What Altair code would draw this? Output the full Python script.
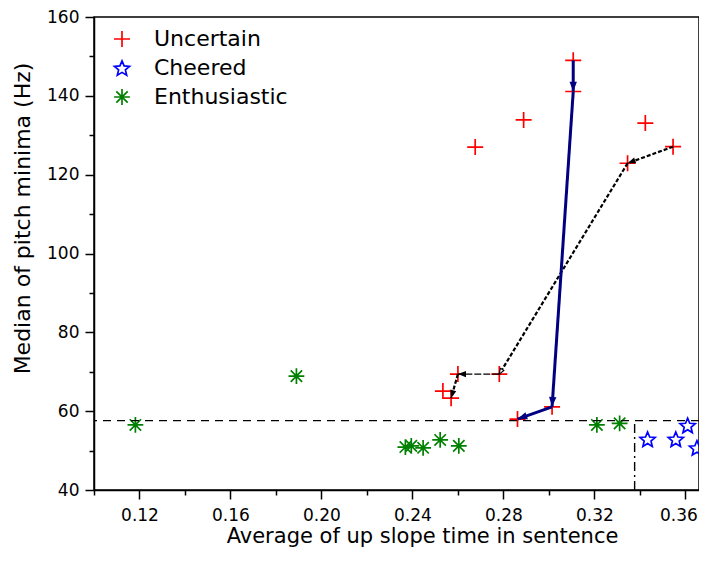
import math
import altair as alt
import pandas as pd

# ---------------- data ----------------
series_names = ["Uncertain", "Cheered", "Enthusiastic"]
series_colors = ["#ff0000", "#0000ff", "#008000"]

unc_x = [0.3107, 0.3107, 0.2889, 0.2676, 0.3424, 0.3546, 0.3346, 0.2782, 0.2600, 0.2534, 0.2570, 0.3014, 0.2862]
unc_y = [149.0, 141.1, 133.9, 127.0, 133.1, 127.1, 122.9, 69.4, 69.4, 65.1, 63.3, 61.1, 58.0]

cheer_x = [0.3434, 0.3558, 0.3610, 0.3651]
cheer_y = [52.9, 52.9, 56.4, 50.7]

enth_x = [0.1182, 0.1890, 0.2369, 0.2395, 0.2447, 0.2522, 0.2604, 0.3211, 0.3311]
enth_y = [56.5, 68.9, 50.9, 51.2, 50.7, 52.7, 51.2, 56.5, 56.9]

thresh_y = 57.6
thresh_x = 0.3377

blue_path_x = [0.3107, 0.3107, 0.3014, 0.2862]
blue_path_y = [149.0, 141.1, 61.1, 58.0]
black_path_x = [0.3546, 0.3346, 0.2782, 0.2600, 0.2570]
black_path_y = [127.1, 122.9, 69.4, 69.4, 63.3]
black_thin_segments = [2]
black_open_heads = [1]

x_ticks = [0.10, 0.12, 0.14, 0.16, 0.18, 0.20, 0.22, 0.24, 0.26, 0.28, 0.30, 0.32, 0.34, 0.36]
y_ticks = [40, 50, 60, 70, 80, 90, 100, 110, 120, 130, 140, 150, 160]
x_domain = [0.10, 0.366]
y_domain = [40, 160]

# ---------------- layout ----------------
W, H = 605, 473
FONT = "DejaVu Sans"
sx = W / (x_domain[1] - x_domain[0])
sy = H / (y_domain[1] - y_domain[0])

# marker shapes (unit paths)
PLUS = "M-1,0L1,0M0,-1L0,1"
AST = "M-1,0L1,0M0,-1L0,1M-0.72,-0.72L0.72,0.72M-0.72,0.72L0.72,-0.72"


def star_path(r_out=1.0, r_in=0.45):
    pts = []
    for k in range(10):
        r = r_out if k % 2 == 0 else r_in
        a = math.radians(-90 + 36 * k)
        pts.append((r * math.cos(a), r * math.sin(a) + 0.1))
    return "M" + "L".join(f"{x:.3f},{y:.3f}" for x, y in pts) + "Z"


STAR = star_path()
ARROW = "M0,0L-0.38,1L0.38,1Z"

scatter = pd.DataFrame(
    {
        "x": unc_x + cheer_x + enth_x,
        "y": unc_y + cheer_y + enth_y,
        "series": ["Uncertain"] * len(unc_x) + ["Cheered"] * len(cheer_x) + ["Enthusiastic"] * len(enth_x),
    }
)


def segments(xs, ys):
    rows = []
    for i in range(len(xs) - 1):
        x0, y0, x1, y1 = xs[i], ys[i], xs[i + 1], ys[i + 1]
        ang = math.degrees(math.atan2((x1 - x0) * sx, (y1 - y0) * sy)) % 360
        rows.append(dict(seg=i, x=x0, y=y0, x2=x1, y2=y1, angle=ang))
    return pd.DataFrame(rows)


blue_seg = segments(blue_path_x, blue_path_y)
black_seg = segments(black_path_x, black_path_y)
black_thick = black_seg[~black_seg["seg"].isin(black_thin_segments)]
black_thin = black_seg[black_seg["seg"].isin(black_thin_segments)]
black_heads_filled = black_seg[~black_seg["seg"].isin(black_open_heads)]
black_heads_open = black_seg[black_seg["seg"].isin(black_open_heads)]

xscale = alt.Scale(domain=x_domain, nice=False, zero=False)
yscale = alt.Scale(domain=y_domain, nice=False, zero=False)

xaxis = alt.Axis(
    title="Average of up slope time in sentence",
    values=x_ticks,
    labelExpr="round(datum.value*100) % 4 == 0 ? format(datum.value, '.2f') : ''",
    tickSize={"condition": {"test": "round(datum.value*100) % 4 == 0", "value": 9}, "value": 5},
    labelOffset={"condition": {"test": "datum.value > 0.35", "value": -7}, "value": 0},
    grid=False,
    labelFlush=False,
    labelOverlap=False,
    labelPadding=8,
    titlePadding=2,
    titleX=328,
    titleFontSize=21,
)
yaxis = alt.Axis(
    title="Median of pitch minima (Hz)",
    values=y_ticks,
    labelExpr="datum.value % 20 == 0 ? format(datum.value, 'd') : ''",
    tickSize={"condition": {"test": "datum.value % 20 == 0", "value": 9}, "value": 5},
    grid=False,
    labelOverlap=False,
    labelPadding=6,
    titlePadding=12,
    titleY=201,
    titleFontSize=22,
)


def X(field="x"):
    return alt.X(f"{field}:Q", scale=xscale, axis=xaxis)


def Y(field="y"):
    return alt.Y(f"{field}:Q", scale=yscale, axis=yaxis)


points = (
    alt.Chart(scatter)
    .mark_point(filled=False, strokeWidth=1.7, opacity=1)
    .encode(
        x=X(),
        y=Y(),
        color=alt.Color(
            "series:N",
            scale=alt.Scale(domain=series_names, range=series_colors),
            legend=alt.Legend(
                orient="none",
                legendX=17,
                legendY=11,
                title=None,
                direction="vertical",
                labelFont=FONT,
                labelFontSize=22,
                labelColor="black",
                labelOffset=21,
                symbolSize=169,
                symbolStrokeWidth=1.7,
                rowPadding=6,
                padding=0,
            ),
        ),
        shape=alt.Shape(
            "series:N",
            scale=alt.Scale(domain=series_names, range=[PLUS, STAR, AST]),
            legend=None,
        ),
        size=alt.Size(
            "series:N",
            scale=alt.Scale(domain=series_names, range=[256, 250, 324]),
            legend=None,
        ),
    )
)

hline = (
    alt.Chart(pd.DataFrame({"y": [thresh_y]}))
    .mark_rule(color="black", strokeDash=[8, 6], strokeWidth=1.4)
    .encode(y=Y())
)
vline = (
    alt.Chart(pd.DataFrame({"x": [thresh_x], "y": [y_domain[0]], "y2": [thresh_y]}))
    .mark_rule(color="black", strokeDash=[9, 4, 2, 4], strokeWidth=1.4)
    .encode(x=X(), y=Y(), y2="y2:Q")
)

blk_thick = (
    alt.Chart(black_thick)
    .mark_rule(color="black", strokeDash=[4, 2], strokeWidth=2.2)
    .encode(x=X(), y=Y(), x2="x2:Q", y2="y2:Q")
)
blk_thin = (
    alt.Chart(black_thin)
    .mark_rule(color="black", strokeDash=[7, 2], strokeWidth=1.2)
    .encode(x=X(), y=Y(), x2="x2:Q", y2="y2:Q")
)
blue_lines = (
    alt.Chart(blue_seg)
    .mark_rule(color="#000080", strokeWidth=3)
    .encode(x=X(), y=Y(), x2="x2:Q", y2="y2:Q")
)

blue_heads = (
    alt.Chart(blue_seg)
    .mark_point(shape=ARROW, filled=True, color="#000080", size=380, opacity=1)
    .encode(x=X("x2"), y=Y("y2"), angle=alt.Angle("angle:Q", scale=None))
)
blk_heads = (
    alt.Chart(black_heads_filled)
    .mark_point(shape=ARROW, filled=True, color="black", size=260, opacity=1)
    .encode(x=X("x2"), y=Y("y2"), angle=alt.Angle("angle:Q", scale=None))
)
blk_open = (
    alt.Chart(black_heads_open)
    .mark_point(shape=ARROW, filled=True, fill="white", stroke="black", strokeWidth=1, size=120, opacity=1)
    .encode(x=X("x2"), y=Y("y2"), angle=alt.Angle("angle:Q", scale=None))
)

chart = (
    alt.layer(points, hline, vline, blk_thick, blk_thin, blue_lines, blue_heads, blk_heads, blk_open)
    .properties(
        width=W,
        height=H,
        autosize=alt.AutoSizeParams(type="none"),
        padding={"left": 86, "top": 9, "right": 0, "bottom": 58},
        background="white",
    )
    .configure_view(stroke="black", strokeWidth=1.5)
    .configure_axis(
        domainColor="black",
        domainWidth=1.5,
        tickColor="black",
        tickWidth=1.5,
        labelFont=FONT,
        labelFontSize=17,
        labelColor="black",
        titleFont=FONT,
        titleFontWeight="normal",
        titleColor="black",
    )
)

chart.save("out.html", embed_options={"renderer": "svg", "actions": False})
